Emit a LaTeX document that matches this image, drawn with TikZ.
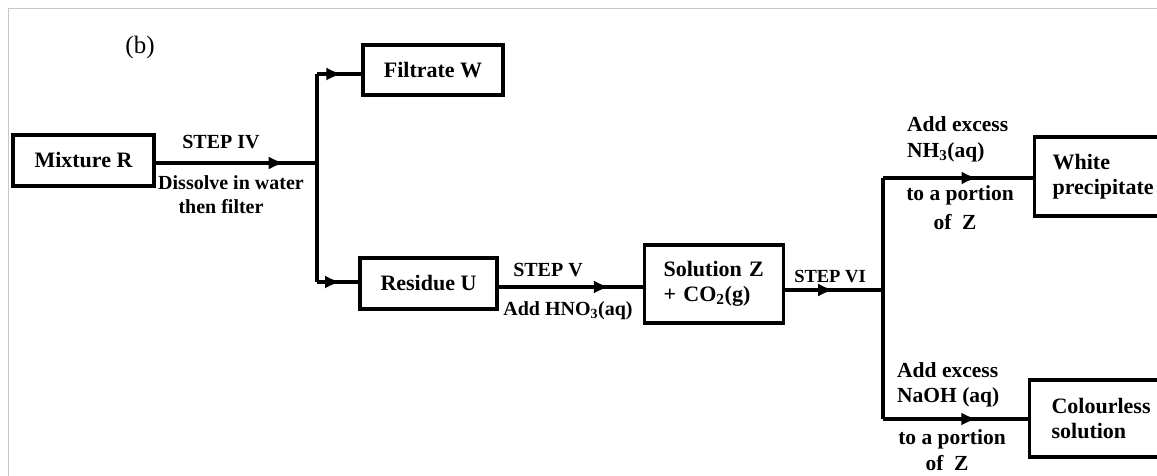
\documentclass[tikz,border=0pt]{standalone}
\usepackage{fontspec}
\setmainfont{Liberation Serif}
\usetikzlibrary{arrows.meta,decorations.markings}
\tikzset{
  box/.style={draw, line width=3.2pt, inner sep=0pt, font=\bfseries\fontsize{22}{25}\selectfont, align=center},
  lab/.style={inner sep=0pt, font=\bfseries\fontsize{20}{24}\selectfont},
  rlab/.style={inner sep=0pt, font=\bfseries\fontsize{21.5}{27}\selectfont},
  wire/.style={line width=3.2pt},
  flow/.style={wire, postaction={decorate}, decoration={markings,
     mark=at position #1 with {\arrow{Latex[length=16pt,width=13pt]}}}},
  frame/.style={draw=black!22, line width=1pt}
}
\begin{document}
\begin{tikzpicture}[x=1pt,y=-1pt]
\useasboundingbox (0,0) rectangle (1157,476);
\clip (0,0) rectangle (1157,476);
\draw[frame] (8,476) -- (8,9) -- (1160,9);

\node[inner sep=0pt, font=\fontsize{25}{28}\selectfont] (b) at (140,47) {(b)};

% boxes
\node[box, minimum width=141pt, minimum height=51pt] (mixR) at (83.5,160.5) {Mixture R};
\node[box, minimum width=140pt, minimum height=50pt] (filW) at (433,70) {Filtrate W};
\node[box, minimum width=137pt, minimum height=51pt] (resU) at (428.5,283.5) {Residue U};
\node[box, anchor=west, text width=101pt, inner xsep=19pt, minimum height=78pt, align=left] (solZ) at (643,284) {Solution Z\\+ CO\textsubscript{2}(g)};
\node[box, anchor=west, text width=110pt, inner xsep=18pt, minimum height=79pt, align=left] (white) at (1033,176.5) {White\\precipitate};
\node[box, anchor=west, text width=110pt, inner xsep=22pt, minimum height=77pt, align=left] (colour) at (1028,418.5) {Colourless\\solution};

% junctions
\coordinate (j1) at (317,163);
\coordinate (t1) at (317,74);
\coordinate (b1) at (317,282);
\coordinate (j2) at (883,290);
\coordinate (t2) at (883,178);
\coordinate (b2) at (883,419);

% connectors
\draw[flow=0.80] (mixR.east |- j1) -- (j1);
\draw[wire] (t1) -- (b1);
\draw[flow=0.57] (t1) -- (filW.west |- t1);
\draw[flow=0.58] (b1) -- (resU.west |- b1);
\draw[flow=0.77] (resU.east |- 0,287) -- (solZ.west |- 0,287);
\draw[flow=0.50] (solZ.east |- j2) -- (j2);
\draw[wire] (t2) -- (b2);
\draw[flow=0.63] (t2) -- (white.west |- t2);
\draw[flow=0.65] (b2) -- (colour.west |- b2);

% labels
\node[lab] (s4) at (221,142) {STEP IV};
\node[lab] (d4) at (231,183) {Dissolve in water};
\node[lab] (f4) at (221,207) {then filter};
\node[lab] (s5) at (548,270) {STEP V};
\node[lab] (a5) at (568,311) {Add HNO\textsubscript{3}(aq)};
\node[lab, font=\bfseries\fontsize{18.5}{22}\selectfont] (s6) at (830,277) {STEP VI};
\node[rlab, anchor=west] (ta1) at (907,124) {Add excess};
\node[rlab, anchor=west] (ta2) at (907,152) {NH\textsubscript{3}(aq)};
\node[rlab] (tp1) at (960,195) {to a portion};
\node[rlab] (tp2) at (955,222) {of\enspace Z};
\node[rlab, anchor=west] (ba1) at (897,370) {Add excess};
\node[rlab, anchor=west] (ba2) at (897,397) {NaOH (aq)};
\node[rlab] (bp1) at (952,439) {to a portion};
\node[rlab] (bp2) at (947,463) {of\enspace Z};
\end{tikzpicture}
\end{document}
